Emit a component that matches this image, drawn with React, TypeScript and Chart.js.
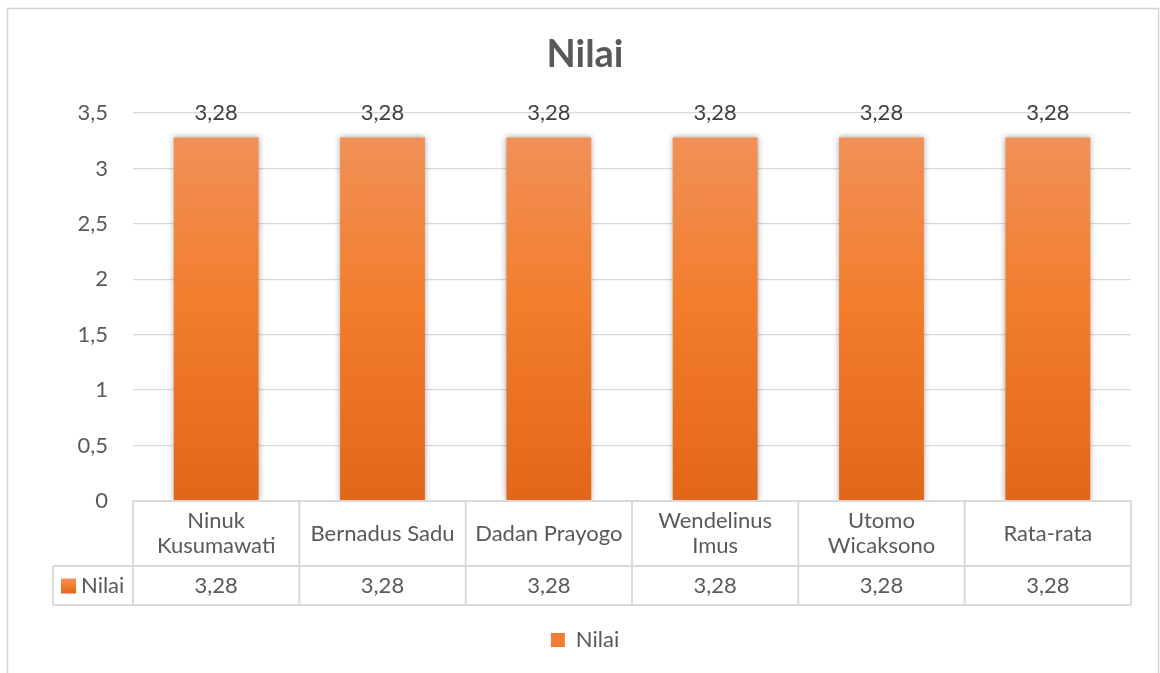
import { useEffect, useRef } from 'react';
import { Chart, registerables } from 'chart.js';

Chart.register(...registerables);

const chartTitle = 'Nilai';
const seriesName = 'Nilai';
const categories: string[][] = [
  ['Ninuk', 'Kusumawati'],
  ['Bernadus Sadu'],
  ['Dadan Prayogo'],
  ['Wendelinus', 'Imus'],
  ['Utomo', 'Wicaksono'],
  ['Rata-rata'],
];
const values: number[] = [3.28, 3.28, 3.28, 3.28, 3.28, 3.28];
const yMin = 0;
const yMax = 3.5;
const yStep = 0.5;

const FONT = 'Lato';
const FS = 22;
const TEXT = '#595959';
const GRID = '#d9d9d9';

const fmt = (v: number, digits?: number) =>
  (digits === undefined ? String(v) : v.toFixed(digits)).replace('.', ',');

function barGradient(ctx: CanvasRenderingContext2D, top: number, bottom: number) {
  const g = ctx.createLinearGradient(0, top, 0, bottom);
  g.addColorStop(0, '#F1935E');
  g.addColorStop(0.5, '#F27D2B');
  g.addColorStop(1, '#E2661A');
  return g;
}

const framePlugin = {
  id: 'frame',
  beforeDraw(chart: any) {
    const { ctx, width, height } = chart;
    ctx.save();
    ctx.fillStyle = '#ffffff';
    ctx.fillRect(0, 0, width, height);
    ctx.strokeStyle = '#d4d4d4';
    ctx.lineWidth = 1.5;
    ctx.strokeRect(7.5, 8.5, 1151, height + 20);
    ctx.restore();
  },
};

const shadowPlugin = {
  id: 'barShadow',
  beforeDatasetsDraw(chart: any) {
    const ctx = chart.ctx;
    ctx.save();
    ctx.shadowColor = 'rgba(0,0,0,0.35)';
    ctx.shadowBlur = 6;
    ctx.shadowOffsetX = 0;
    ctx.shadowOffsetY = 0;
  },
  afterDatasetsDraw(chart: any) {
    chart.ctx.restore();
  },
};

const labelsAndTablePlugin = {
  id: 'labelsAndTable',
  afterDraw(chart: any) {
    const { ctx, chartArea } = chart;
    const xs = chart.scales.x;
    const meta = chart.getDatasetMeta(0);
    ctx.save();
    // data labels
    ctx.font = `${FS}px ${FONT}`;
    ctx.fillStyle = '#404040';
    ctx.textAlign = 'center';
    ctx.textBaseline = 'middle';
    meta.data.forEach((el: any, i: number) => {
      ctx.fillText(fmt(values[i], 2), el.x, el.y - 24);
    });

    // data table
    const n = categories.length;
    const centers = categories.map((_, i) => xs.getPixelForValue(i));
    const bounds = [xs.left];
    for (let i = 1; i < n; i++) bounds.push((centers[i - 1] + centers[i]) / 2);
    bounds.push(xs.right);
    const top = chartArea.bottom;
    const mid = top + 65;
    const bot = top + 104;
    const keyLeft = 53;

    ctx.strokeStyle = GRID;
    ctx.lineWidth = 2;
    ctx.beginPath();
    ctx.moveTo(bounds[0], top);
    ctx.lineTo(bounds[n], top);
    ctx.moveTo(keyLeft, mid);
    ctx.lineTo(bounds[n], mid);
    ctx.moveTo(keyLeft, bot);
    ctx.lineTo(bounds[n], bot);
    bounds.forEach((b) => {
      ctx.moveTo(b, top);
      ctx.lineTo(b, bot);
    });
    ctx.moveTo(keyLeft, mid);
    ctx.lineTo(keyLeft, bot);
    ctx.stroke();

    ctx.fillStyle = TEXT;
    ctx.font = `${FS}px ${FONT}`;
    const headCenter = (top + mid) / 2;
    categories.forEach((lines, i) => {
      const lh = 25;
      const start = headCenter - ((lines.length - 1) * lh) / 2;
      lines.forEach((line, j) => ctx.fillText(line, centers[i], start + j * lh));
    });
    const rowCenter = (mid + bot) / 2;
    values.forEach((v, i) => ctx.fillText(fmt(v, 2), centers[i], rowCenter));

    // legend key in table
    const kx = 61;
    const ky = rowCenter - 7;
    ctx.fillStyle = barGradient(ctx, ky, ky + 15);
    ctx.fillRect(kx, ky, 15, 15);
    ctx.fillStyle = TEXT;
    ctx.textAlign = 'left';
    ctx.fillText(seriesName, kx + 20, rowCenter);
    ctx.restore();
  },
};

export default function App() {
  const ref = useRef<HTMLCanvasElement>(null);
  useEffect(() => {
    if (!ref.current) return;
    Chart.defaults.font.family = FONT;
    const chart = new Chart(ref.current, {
      type: 'bar',
      data: {
        labels: categories,
        datasets: [
          {
            label: seriesName,
            data: values,
            backgroundColor: (c: any) => {
              const ca = c.chart.chartArea;
              if (!ca) return '#F07F2E';
              return barGradient(c.chart.ctx, ca.top, ca.bottom);
            },
            borderWidth: 0,
            barPercentage: 0.51,
            categoryPercentage: 1,
          },
        ],
      },
      options: {
        animation: false,
        responsive: false,
        devicePixelRatio: 1,
        layout: { padding: { top: 0, left: 10, right: 0, bottom: 12 } },
        plugins: {
          tooltip: { enabled: false },
          title: {
            display: true,
            text: chartTitle,
            color: TEXT,
            font: { family: FONT, size: 38, weight: 'bold' },
            padding: { top: 32.2, bottom: 35.2 },
          },
          legend: {
            display: true,
            position: 'bottom',
            labels: {
              color: TEXT,
              font: { family: FONT, size: FS },
              boxWidth: 14,
              boxHeight: 14,
              padding: 24,
              generateLabels: () => [
                {
                  text: seriesName,
                  fillStyle: '#EF7D33',
                  strokeStyle: '#EF7D33',
                  lineWidth: 0,
                  hidden: false,
                  datasetIndex: 0,
                  fontColor: TEXT,
                },
              ],
            },
          },
        },
        scales: {
          x: {
            type: 'category',
            grid: { display: false },
            border: { display: false },
            ticks: { display: false },
            afterFit: (s: any) => {
              s.height = 104;
            },
          },
          y: {
            type: 'linear',
            min: yMin,
            max: yMax,
            border: { display: false },
            grid: { color: GRID, lineWidth: 1.3, drawTicks: false },
            ticks: {
              stepSize: yStep,
              padding: 25,
              color: TEXT,
              font: { family: FONT, size: FS },
              callback: (v: any) => fmt(Number(v)),
            },
            afterFit: (s: any) => {
              s.width = 123;
            },
          },
          y2: {
            type: 'linear',
            position: 'right',
            display: true,
            grid: { display: false },
            border: { display: false },
            ticks: { display: false },
            afterFit: (s: any) => {
              s.width = 29;
            },
          },
        },
      } as any,
      plugins: [framePlugin, shadowPlugin, labelsAndTablePlugin],
    });
    return () => chart.destroy();
  }, []);
  return (
    <div style={{ position: 'fixed', left: 0, top: 0, width: 1160, height: 673, background: '#fff' }}>
      <canvas ref={ref} width={1160} height={673} />
    </div>
  );
}
